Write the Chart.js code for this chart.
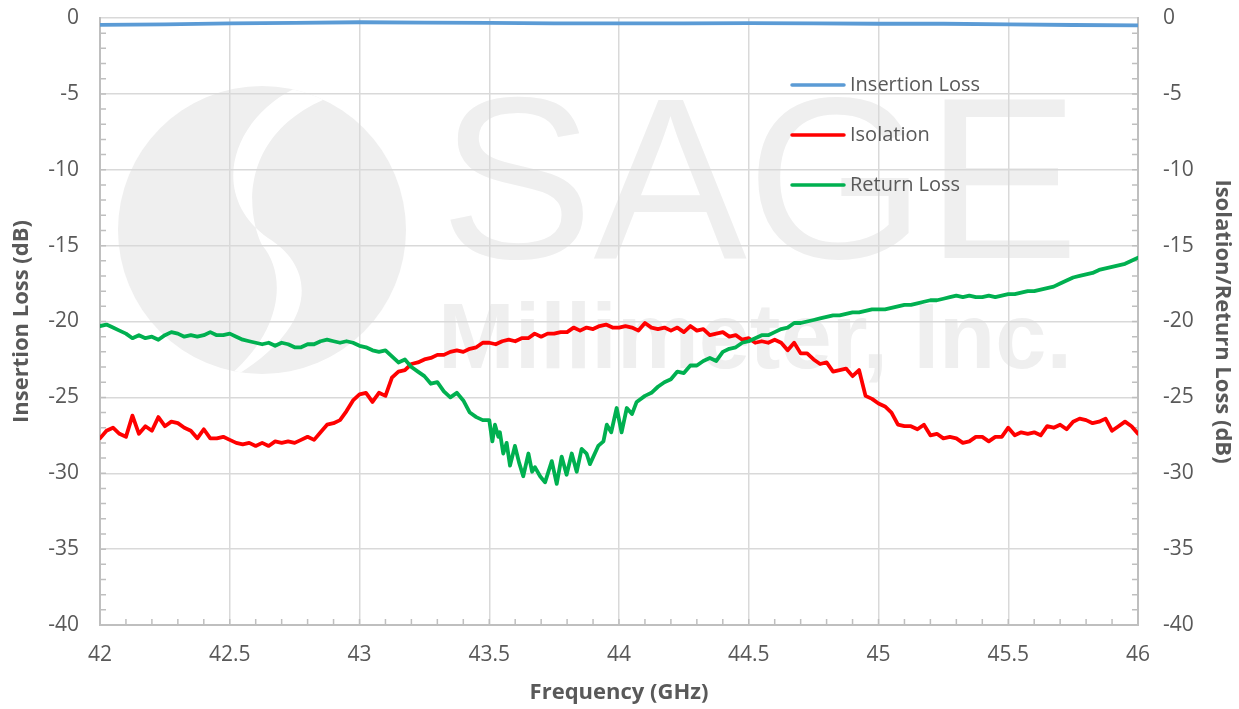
<!DOCTYPE html>
<html>
<head>
<meta charset="utf-8">
<script src="https://cdn.jsdelivr.net/npm/chart.js@4.4.1/dist/chart.umd.min.js"></script>
<style>
  html, body { margin: 0; padding: 0; background: #fff; }
</style>
</head>
<body>
<canvas id="myChart" width="1239" height="709"></canvas>
<script>
// sweep frequencies (GHz) for isolation
const freqs = [
  42, 42.025, 42.05, 42.075, 42.1, 42.125, 42.15, 42.175, 42.2, 42.225,
  42.25, 42.275, 42.3, 42.325, 42.35, 42.375, 42.4, 42.425, 42.45, 42.475,
  42.5, 42.525, 42.55, 42.575, 42.6, 42.625, 42.65, 42.675, 42.7, 42.725,
  42.75, 42.775, 42.8, 42.825, 42.85, 42.875, 42.9, 42.925, 42.95, 42.975,
  43, 43.025, 43.05, 43.075, 43.1, 43.125, 43.15, 43.175, 43.2, 43.225,
  43.25, 43.275, 43.3, 43.325, 43.35, 43.375, 43.4, 43.425, 43.45, 43.475,
  43.5, 43.525, 43.55, 43.575, 43.6, 43.625, 43.65, 43.675, 43.7, 43.725,
  43.75, 43.775, 43.8, 43.825, 43.85, 43.875, 43.9, 43.925, 43.95, 43.975,
  44, 44.025, 44.05, 44.075, 44.1, 44.125, 44.15, 44.175, 44.2, 44.225,
  44.25, 44.275, 44.3, 44.325, 44.35, 44.375, 44.4, 44.425, 44.45, 44.475,
  44.5, 44.525, 44.55, 44.575, 44.6, 44.625, 44.65, 44.675, 44.7, 44.725,
  44.75, 44.775, 44.8, 44.825, 44.85, 44.875, 44.9, 44.925, 44.95, 44.975,
  45, 45.025, 45.05, 45.075, 45.1, 45.125, 45.15, 45.175, 45.2, 45.225,
  45.25, 45.275, 45.3, 45.325, 45.35, 45.375, 45.4, 45.425, 45.45, 45.475,
  45.5, 45.525, 45.55, 45.575, 45.6, 45.625, 45.65, 45.675, 45.7, 45.725,
  45.75, 45.775, 45.8, 45.825, 45.85, 45.875, 45.9, 45.925, 45.95, 45.975,
  46
];

const isolation = [
  -27.7, -27.2, -27.0, -27.4, -27.6, -26.2, -27.4, -26.9, -27.2, -26.3,
  -26.9, -26.6, -26.7, -27.0, -27.2, -27.7, -27.1, -27.7, -27.7, -27.6,
  -27.8, -28.0, -28.1, -28.0, -28.2, -28.0, -28.2, -27.9, -28.0, -27.9,
  -28.0, -27.8, -27.6, -27.8, -27.3, -26.8, -26.7, -26.5, -25.9, -25.2,
  -24.8, -24.7, -25.3, -24.7, -24.9, -23.7, -23.3, -23.2, -22.8, -22.7,
  -22.5, -22.4, -22.2, -22.2, -22.0, -21.9, -22.0, -21.8, -21.7, -21.4,
  -21.4, -21.5, -21.3, -21.2, -21.3, -21.1, -21.1, -20.8, -21.0, -20.8,
  -20.8, -20.7, -20.7, -20.4, -20.6, -20.4, -20.5, -20.3, -20.2, -20.4,
  -20.4, -20.3, -20.4, -20.6, -20.1, -20.4, -20.5, -20.4, -20.6, -20.4,
  -20.7, -20.3, -20.6, -20.5, -20.9, -20.8, -20.7, -21.0, -20.9, -21.2,
  -21.1, -21.4, -21.3, -21.4, -21.2, -21.4, -21.9, -21.4, -22.1, -22.1,
  -22.5, -22.8, -22.7, -23.3, -23.2, -23.1, -23.6, -23.2, -24.9, -25.1,
  -25.4, -25.6, -26.0, -26.8, -26.9, -26.9, -27.1, -26.8, -27.5, -27.4,
  -27.7, -27.6, -27.7, -28.0, -27.9, -27.6, -27.6, -27.9, -27.6, -27.6,
  -27.0, -27.5, -27.3, -27.4, -27.3, -27.5, -26.9, -27.0, -26.8, -27.1,
  -26.6, -26.4, -26.5, -26.7, -26.6, -26.4, -27.2, -26.9, -26.6, -26.9,
  -27.4
];

// return loss: read more densely through the noisy dip
const rlFreqs = [
  42, 42.025, 42.05, 42.075, 42.1, 42.125, 42.15, 42.175, 42.2, 42.225,
  42.25, 42.275, 42.3, 42.325, 42.35, 42.375, 42.4, 42.425, 42.45, 42.475,
  42.5, 42.525, 42.55, 42.575, 42.6, 42.625, 42.65, 42.675, 42.7, 42.725,
  42.75, 42.775, 42.8, 42.825, 42.85, 42.875, 42.9, 42.925, 42.95, 42.975,
  43, 43.025, 43.05, 43.075, 43.1, 43.125, 43.15, 43.175, 43.2, 43.225,
  43.25, 43.275, 43.3, 43.325, 43.35, 43.375, 43.4, 43.425, 43.45, 43.475,
  43.5, 43.512, 43.522, 43.535, 43.541, 43.554, 43.567, 43.58, 43.599, 43.615,
  43.631, 43.651, 43.665, 43.676, 43.696, 43.715, 43.741, 43.76, 43.779, 43.798,
  43.818, 43.837, 43.856, 43.875, 43.888, 43.92, 43.94, 43.953, 43.97, 43.991,
  44.01, 44.03, 44.05, 44.068,
  44.1, 44.125, 44.15, 44.175, 44.2, 44.225,
  44.25, 44.275, 44.3, 44.325, 44.35, 44.375, 44.4, 44.425, 44.45, 44.475,
  44.5, 44.525, 44.55, 44.575, 44.6, 44.625, 44.65, 44.675, 44.7, 44.725,
  44.75, 44.775, 44.8, 44.825, 44.85, 44.875, 44.9, 44.925, 44.95, 44.975,
  45, 45.025, 45.05, 45.075, 45.1, 45.125, 45.15, 45.175, 45.2, 45.225,
  45.25, 45.275, 45.3, 45.325, 45.35, 45.375, 45.4, 45.425, 45.45, 45.475,
  45.5, 45.525, 45.55, 45.575, 45.6, 45.625, 45.65, 45.675, 45.7, 45.725,
  45.75, 45.775, 45.8, 45.825, 45.85, 45.875, 45.9, 45.925, 45.95, 45.975,
  46
];

const returnLoss = [
  -20.3, -20.2, -20.4, -20.6, -20.8, -21.1, -20.9, -21.1, -21.0, -21.2,
  -20.9, -20.7, -20.8, -21.0, -20.9, -21.0, -20.9, -20.7, -20.9, -20.9,
  -20.8, -21.0, -21.2, -21.3, -21.4, -21.5, -21.4, -21.6, -21.4, -21.5,
  -21.7, -21.7, -21.5, -21.5, -21.3, -21.2, -21.3, -21.4, -21.3, -21.4,
  -21.6, -21.7, -21.9, -22.0, -21.9, -22.3, -22.7, -22.5, -23.0, -23.3,
  -23.6, -24.1, -24.0, -24.6, -25.0, -24.7, -25.2, -26.0, -26.3, -26.5,
  -26.5, -27.9, -26.8, -27.6, -27.3, -28.7, -28.0, -29.5, -28.2, -29.3,
  -30.2, -28.7, -29.9, -29.6, -30.2, -30.6, -29.2, -30.7, -28.9, -30.1,
  -28.7, -29.9, -28.4, -28.7, -29.4, -28.2, -27.9, -26.8, -27.3, -25.7,
  -27.3, -25.7, -26.1, -25.3,
  -24.9, -24.7, -24.3, -24.0, -23.8, -23.3,
  -23.4, -22.9, -22.9, -22.6, -22.4, -22.6, -22.0, -21.8, -21.7, -21.4,
  -21.3, -21.1, -20.9, -20.9, -20.7, -20.5, -20.4, -20.1, -20.1, -20.0,
  -19.9, -19.8, -19.7, -19.6, -19.6, -19.5, -19.4, -19.4, -19.3, -19.2,
  -19.2, -19.2, -19.1, -19.0, -18.9, -18.9, -18.8, -18.7, -18.6, -18.6,
  -18.5, -18.4, -18.3, -18.4, -18.3, -18.4, -18.4, -18.3, -18.4, -18.3,
  -18.2, -18.2, -18.1, -18.0, -18.0, -17.9, -17.8, -17.7, -17.5, -17.3,
  -17.1, -17.0, -16.9, -16.8, -16.6, -16.5, -16.4, -16.3, -16.2, -16.0,
  -15.8
];

// insertion loss is almost flat, read every 0.25 GHz
const ilFreqs = [42, 42.25, 42.5, 42.75, 43, 43.25, 43.5, 43.75, 44, 44.25, 44.5, 44.75, 45, 45.25, 45.5, 45.75, 46];
const insertionLoss = [-0.45, -0.42, -0.36, -0.32, -0.28, -0.3, -0.32, -0.35, -0.36, -0.35, -0.34, -0.36, -0.38, -0.38, -0.42, -0.46, -0.48];

const seriesNames = ['Insertion Loss', 'Isolation', 'Return Loss'];
const seriesColors = ['#5b9bd5', '#ff0000', '#00b050'];

const FONT = '"Open Sans", "Noto Sans", sans-serif';
const TXT = '#595959';

function toPoints(xs, ys) {
  return xs.map((x, i) => ({ x: x, y: ys[i] }));
}

// watermark logo + text behind everything
const watermark = {
  id: 'watermark',
  beforeDraw(chart) {
    const { ctx } = chart;
    ctx.save();
    ctx.fillStyle = '#ffffff';
    ctx.fillRect(0, 0, chart.width, chart.height);

    ctx.fillStyle = '#efefef';
    ctx.beginPath();
    ctx.arc(262, 230, 144, 0, Math.PI * 2);
    ctx.fill();
    ctx.clip();
    ctx.fillStyle = '#ffffff';
    ctx.beginPath();
    ctx.moveTo(318, 80);
    ctx.bezierCurveTo(240, 100, 200, 190, 268, 238);
    ctx.bezierCurveTo(320, 270, 320, 335, 210, 390);
    ctx.bezierCurveTo(285, 340, 288, 275, 262, 245);
    ctx.bezierCurveTo(245, 210, 240, 130, 335, 95);
    ctx.closePath();
    ctx.fill();
    ctx.restore();

    ctx.save();
    ctx.fillStyle = '#efefef';
    ctx.textBaseline = 'alphabetic';
    ctx.font = '230px "Liberation Sans", Arial, sans-serif';
    ctx.fillText('SAGE', 440, 258);
    ctx.font = 'bold 92px "Liberation Sans", Arial, sans-serif';
    ctx.fillText('Millimeter, Inc.', 438, 368);
    ctx.restore();
  }
};

// minor tick marks inside the plot edges
const minorTicks = {
  id: 'minorTicks',
  beforeDatasetsDraw(chart) {
    const { ctx, chartArea: a, scales } = chart;
    ctx.save();
    ctx.strokeStyle = '#bfbfbf';
    ctx.lineWidth = 1.5;
    ctx.beginPath();
    for (let v = -39; v <= -1; v++) {
      const py = scales.y.getPixelForValue(v);
      ctx.moveTo(a.left, py); ctx.lineTo(a.left + 6, py);
      ctx.moveTo(a.right, py); ctx.lineTo(a.right - 6, py);
    }
    for (let i = 1; i < 40; i++) {
      const px = scales.x.getPixelForValue(42 + i * 0.1);
      ctx.moveTo(px, a.bottom); ctx.lineTo(px, a.bottom - 6);
    }
    ctx.stroke();
    ctx.restore();
  }
};

// legend drawn inside the plot like the original
const insideLegend = {
  id: 'insideLegend',
  afterDraw(chart) {
    const { ctx } = chart;
    ctx.save();
    ctx.font = '20px ' + FONT;
    ctx.textBaseline = 'middle';
    ctx.textAlign = 'left';
    seriesNames.forEach((name, i) => {
      const y = 85 + i * 50;
      ctx.strokeStyle = seriesColors[i];
      ctx.lineWidth = 3.5;
      ctx.lineCap = 'round';
      ctx.beginPath();
      ctx.moveTo(792, y);
      ctx.lineTo(844, y);
      ctx.stroke();
      ctx.fillStyle = TXT;
      ctx.fillText(name, 850, y);
    });
    ctx.restore();
  }
};

function fixHeight(h) {
  return function (scale) {
    scale.height = h;
    scale.paddingLeft = 0;
    scale.paddingRight = 0;
  };
}
function fixWidth(w) {
  return function (scale) {
    scale.width = w;
    scale.paddingTop = 0;
    scale.paddingBottom = 0;
  };
}

const ctx = document.getElementById('myChart');

const config = {
  type: 'line',
  data: {
    datasets: [
      {
        label: seriesNames[0],
        data: toPoints(ilFreqs, insertionLoss),
        borderColor: seriesColors[0],
        yAxisID: 'y',
        order: 2
      },
      {
        label: seriesNames[1],
        data: toPoints(freqs, isolation),
        borderColor: seriesColors[1],
        yAxisID: 'y2',
        order: 1
      },
      {
        label: seriesNames[2],
        data: toPoints(rlFreqs, returnLoss),
        borderColor: seriesColors[2],
        yAxisID: 'y2',
        order: 0
      }
    ]
  },
  options: {
    responsive: false,
    animation: false,
    layout: { padding: { top: 18, left: 0, right: 0, bottom: 0 } },
    elements: {
      line: {
        borderWidth: 3.8,
        tension: 0,
        fill: false,
        borderJoinStyle: 'round',
        borderCapStyle: 'round'
      },
      point: { radius: 0, hoverRadius: 0 }
    },
    plugins: {
      legend: { display: false },
      tooltip: { enabled: false }
    },
    scales: {
      x: {
        type: 'linear',
        min: 42,
        max: 46,
        afterFit: fixHeight(84),
        ticks: {
          stepSize: 0.5,
          autoSkip: false,
          maxRotation: 0,
          padding: 17,
          color: TXT,
          font: { family: FONT, size: 21 },
          callback: (v) => String(Number(v))
        },
        grid: { color: '#d9d9d9', lineWidth: 1.5, drawTicks: false },
        border: { color: '#bfbfbf', width: 2 },
        title: {
          display: true,
          text: 'Frequency (GHz)',
          color: TXT,
          font: { family: FONT, size: 22, weight: 'bold' },
          padding: { top: 0, bottom: 3 }
        }
      },
      y: {
        position: 'left',
        min: -40,
        max: 0,
        afterFit: fixWidth(100),
        ticks: {
          stepSize: 5,
          padding: 21,
          color: TXT,
          font: { family: FONT, size: 21 }
        },
        grid: { color: '#d9d9d9', lineWidth: 1.5, drawTicks: false },
        border: { color: '#bfbfbf', width: 2 },
        title: {
          display: true,
          text: 'Insertion Loss (dB)',
          color: TXT,
          font: { family: FONT, size: 22, weight: 'bold' },
          padding: { top: 9, bottom: 0 }
        }
      },
      y2: {
        position: 'right',
        min: -40,
        max: 0,
        afterFit: fixWidth(101),
        ticks: {
          stepSize: 5,
          padding: 25,
          color: TXT,
          font: { family: FONT, size: 21 }
        },
        grid: { display: false, drawTicks: false },
        border: { color: '#bfbfbf', width: 2 },
        title: {
          display: true,
          text: 'Isolation/Return Loss (dB)',
          color: TXT,
          font: { family: FONT, size: 22, weight: 'bold' },
          padding: { top: 4, bottom: 0 }
        }
      }
    }
  },
  plugins: [watermark, minorTicks, insideLegend]
};

const myChart = new Chart(ctx, config);
</script>
</body>
</html>
